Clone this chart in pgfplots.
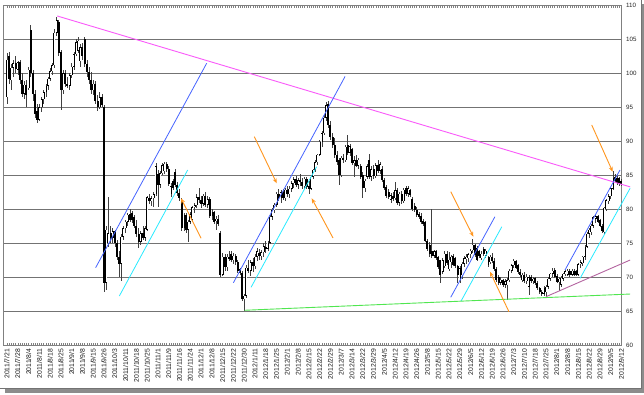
\documentclass[border=0pt]{standalone}
\usepackage{pgfplots}
\usepackage{pgfplotstable}
\usepackage{fontspec}
\setmainfont{Liberation Sans}
\pgfplotsset{compat=1.18}
\usetikzlibrary{arrows.meta}
\definecolor{cMag}{RGB}{250,90,250}
\definecolor{cBlue}{RGB}{70,100,255}
\definecolor{cCyan}{RGB}{40,235,255}
\definecolor{cOrange}{RGB}{255,150,30}
\definecolor{cGreen}{RGB}{80,230,80}
\definecolor{cPurple}{RGB}{180,100,160}
\pgfplotstableread{
i o h l c
0 96.5 103 95.5 102
1 102.5 103.2 98.5 99.2
2 99 101.3 97.5 100.8
3 100.8 102 99.5 101.5
4 101.5 102.5 100 100.6
5 100.5 101.8 99.8 101.6
6 101.6 102 98.5 99
7 99 100 96.5 97
8 97 98.8 96.2 98.3
9 98.3 99 95 96.8
10 97.8 101 97.5 100.5
11 106.3 107.1 99.5 100
12 100 100.5 96 97
13 97 97.5 93.5 94
14 94.5 95.5 92.7 93.2
15 93.2 95.5 93 95
16 95 96.5 94.3 96.2
17 96.2 97.5 95.5 97.2
18 97.2 98.5 96.5 98.2
19 98.2 99.5 97.5 99.2
20 99.2 100.8 98.8 100.3
21 100.3 101.5 99.8 101.2
22 101.2 106.5 100.8 106
23 106 108.3 105.5 107.8
24 107.5 107.8 102.5 103
25 103.2 103.5 94.6 97.5
26 97.5 100.5 97 100
27 100 100.5 98 98.5
28 98.5 99.5 97.8 98.2
29 98.2 100 97.5 99.7
30 99.7 101.5 99.3 101
31 101 103.2 100.5 102.8
32 102.8 105 102.5 104.6
33 103.3 105.3 103 104.8
34 101.8 104.3 101 103.8
35 103.8 104.5 102 102.5
36 105 105.3 101 101.3
37 101.3 102 99.5 100.2
38 100.2 101 98.5 99
39 99 100.2 97 97.5
40 97.5 99 96.8 98.5
41 98.5 98.8 95.5 96
42 96 96.8 94.5 95
43 95 97.2 94.8 96.5
44 96.5 97 95 95.3
45 95 95.3 67.9 69.1
46 69.2 77.5 68.2 77
47 75 81.8 74.5 76.5
48 76.5 77.5 75 75.8
49 75.8 77.3 75 76.8
50 76.8 77 74.5 75
51 75 75.5 72.5 73
52 73 73.8 70 72
53 72 76.3 69.4 76
54 76 77.5 75.5 77.2
55 77.2 78.5 76.5 78.2
56 78.2 79.5 77.5 79.2
57 79.3 80 78.2 78.5
58 79.5 79.8 78 78.4
59 78.8 79.2 77.3 77.6
60 77.6 78.5 76 76.4
61 76.4 77.2 74.3 75.2
62 75.2 76.8 74.8 76.5
63 76.5 77.5 75.5 75.8
64 75.8 77.6 75.4 77.2
65 77 82 76.8 81.8
66 81.6 82.3 80.8 81.2
67 81.2 82 80.5 81.6
68 81.6 82.5 80.4 82.2
69 82.2 86.8 82 86.3
70 85.2 85.8 80.4 83.6
71 83.6 85.6 83.2 85.3
72 85.3 86.8 85 86.5
73 85.6 87 85.2 86.7
74 86.7 87 85.5 86
75 86 86.3 83.4 83.7
76 82.2 83.8 81.8 83.4
77 84.2 84.5 82.8 83.2
78 85.5 86 83.3 83.6
79 83.6 84 82 82.4
80 82.4 83 81.2 81.6
81 81.4 81.6 76.8 77.2
82 77.2 79.5 76.8 79.2
83 79.2 79.5 76.5 77
84 77 78.5 75.2 78.2
85 78.2 79.6 77.8 79.3
86 78.5 80.5 78.2 80.3
87 80.3 81 79.5 80.6
88 80.6 82.2 80.2 81.8
89 81.8 83.1 81 81.4
90 81.4 82 80.2 80.8
91 80.8 82.3 80.5 82
92 82 82.5 80.4 80.7
93 80.7 82 80.2 81.5
94 81.5 81.8 78.7 79
95 79 80 78.4 79.6
96 79.6 79.8 77.8 78.1
97 78.4 79 77 78.6
98 78.6 79.2 77.6 77.9
99 76.5 76.8 70 70.4
100 70.4 73.6 70.2 73
101 73 73.5 71 71.5
102 71.5 73.4 71 73
103 73 73.8 72.4 72.8
104 73.5 73.8 72.2 72.5
105 72.5 73.6 72 73.2
106 73.2 73.4 71.8 72.2
107 72.2 72.5 70.6 70.9
108 71.2 71.4 70.3 70.6
109 70.6 70.9 66.5 66.8
110 66.8 67.6 65.1 67.3
111 67.3 71.8 67 71.4
112 71.4 72.5 70.6 71
113 71 72.5 70.2 72.2
114 72.2 72.8 70.8 71.6
115 71.6 73.4 71.2 73
116 73 74.3 72.4 73.8
117 73.6 74.2 72.6 73.1
118 73.1 74 72.5 73.7
119 73.7 75 73 74.6
120 74.4 75.3 73.6 74.2
121 74.2 75.4 73.8 75.1
122 75.1 79.2 75 78.9
123 78.9 80.2 78.4 79.9
124 79.9 81 79.5 80.7
125 80.7 82.6 80.4 82.3
126 82.3 83 81.2 81.6
127 81.6 82.8 81 82.5
128 82.5 83 81.3 81.6
129 81.6 83.2 81.2 82.9
130 82.9 83.5 81.8 82.2
131 82.2 83.4 81.6 83
132 83 84.2 82.5 83.8
133 83.8 84.8 83.2 84.4
134 84.4 84.9 83.3 83.6
135 83.6 84.6 83 84.3
136 84.3 85.2 83.5 84
137 84 84.6 83 83.4
138 83.4 84.8 83 84.5
139 84.4 84.8 83 83.3
140 83.5 84.2 82.3 83
141 83 85 82.8 84.8
142 84.8 86 84.5 85.8
143 85.8 87.2 85.5 86.9
144 86.9 88.2 86.5 88
145 88 90.2 87.8 89.9
146 89.9 91.5 89.2 91.2
147 91.2 93.8 91 93.5
148 93.5 95.8 93 95.3
149 95.5 96 92 92.4
150 92.4 93 90.2 90.6
151 90.6 91.2 89 89.4
152 89.4 90.5 87.5 88
153 88 88.6 86.5 86.9
154 87.3 87.6 83.6 85
155 85 87.9 84.8 87.6
156 87.6 88.2 86.8 87.2
157 87.2 89.5 87 89.2
158 89.4 90.9 88 88.3
159 88.3 89.6 87.8 89.3
160 88.8 89 86.5 86.8
161 86.8 87.8 84.8 87.2
162 87.2 88 86.2 86.4
163 86.4 87.6 86 87.3
164 86.3 86.6 84.5 84.8
165 85 85.5 81.6 83.1
166 83.1 84.5 82.5 84.2
167 84.8 86.6 84.5 86.3
168 87.2 88.2 84.5 84.8
169 84.8 86.3 84.2 85.9
170 85.9 86.5 84.5 84.9
171 84.9 86.8 84.6 86.5
172 86.5 87.2 85.4 85.7
173 85.7 86.9 85.2 86.6
174 86 86.3 84 84.3
175 84.3 84.6 82.8 83.1
176 83.3 83.6 81.7 82
177 82.6 83 81.5 81.8
178 81.4 82.4 81 82.1
179 81.9 82.6 81.2 81.5
180 81.6 84 81.4 82.8
181 82.8 83.2 80.6 81
182 81 82.6 80.5 82.3
183 82.3 82.7 80.8 81.2
184 81.2 83.2 81 82.9
185 83.2 83.4 82 82.3
186 82.3 83.5 81.8 83.1
187 82.8 83 81.8 82.1
188 81.5 81.8 79.8 80.1
189 80.5 80.9 79.6 79.9
190 79.9 80.4 78.8 79.1
191 79.3 79.6 78.6 78.9
192 79 79.4 77.8 78.1
193 78.3 78.6 77.5 77.9
194 78.1 78.3 75.2 75.4
195 75.4 75.7 73.8 74.1
196 74.8 75.2 73 73.4
197 73.8 80.1 72.8 73.2
198 73.2 74 72.8 73.8
199 73.8 74 72.6 72.9
200 73 73.2 71.2 71.5
201 72.5 72.6 69.1 70.3
202 70.8 72.8 70.5 72.5
203 71.6 73.8 71.3 73.5
204 73.5 73.8 71.8 72.1
205 71.2 73.7 71 72.6
206 72.2 73.3 71.4 73
207 73.2 73.4 71.6 71.8
208 72.8 73 71.4 71.6
209 71.6 71.8 69.1 70.4
210 69.6 71.6 69.2 71.3
211 70.3 72.2 69.8 72
212 72 73.2 71.5 72.8
213 72.8 73.4 72 73
214 72.8 73.6 72.2 73.4
215 73.4 74.2 72.9 73.9
216 74 75.7 73.6 74.8
217 74.7 74.9 73 73.3
218 74.3 74.6 72.4 72.6
219 73.8 74 72.9 73.2
220 72.8 73.8 72.5 73.5
221 74.1 74.4 73.2 73.5
222 73.2 74.2 72.8 73.9
223 71.8 73.2 71.5 73
224 72.2 73.3 71.9 73
225 73 73.6 72.1 72.4
226 72.4 72.8 71 71.2
227 71.2 71.5 69.3 69.6
228 70 70.3 68.9 69.2
229 69.2 70 68.8 69.6
230 69.6 69.8 68.6 68.9
231 68.9 69.8 68.4 69.4
232 68.8 69.9 66.7 69.6
233 69.6 71.2 69.3 71
234 71 72 70.6 71.8
235 71.8 72.7 71.4 72.4
236 72.4 72.6 71.2 71.4
237 71.8 72 70.5 70.8
238 70.8 71.2 70 70.3
239 69.6 70.6 69.3 70.4
240 70.4 70.8 69.1 69.4
241 69.4 70.5 69 70.1
242 68.6 70.3 67.4 70
243 70 70.3 69.2 69.5
244 69.5 70 69 69.8
245 69.9 70.1 68.9 69.1
246 69.1 69.4 68.2 68.4
247 68.4 68.6 67.6 67.8
248 67.8 68.2 67.3 67.6
249 67.6 68.7 67.2 68.5
250 67.8 68.8 67.2 68.6
251 68.6 70 68.3 69.8
252 69.8 70.7 69.4 70.5
253 70.5 71.3 70 71
254 71.1 71.3 69.9 70.1
255 70.2 70.5 69.1 69.3
256 69.3 70 68 69.8
257 68.9 70.2 68.6 69.9
258 69.8 70.7 69.5 70.5
259 70.5 71.1 70.2 70.9
260 70.4 71.2 70.2 71
261 71 71.2 70.1 70.4
262 70.4 71.2 70.2 71
263 71 71.2 70.2 70.4
264 70.9 71.1 70.2 70.4
265 70.4 72.1 70.3 71.9
266 71.9 72.5 71.3 72.2
267 72.1 73.2 71.6 73
268 73 74.7 72.6 74.5
269 74.5 76.6 74.3 76.4
270 76.4 77.2 75.8 77
271 76.6 77.8 76.2 77.6
272 77.6 79 77.3 78.8
273 78.6 79.3 78 79
274 79 79.1 78 78.2
275 78.4 78.6 77.4 77.6
276 77.6 77.9 76.5 76.8
277 76.6 80.4 76.4 80.2
278 80 81.5 79.7 81.3
279 81.2 82.2 80.8 81.9
280 81.9 83.3 81.5 83.1
281 83 85.6 82.8 84.6
282 84.8 85.2 83.8 84.1
283 84.6 84.9 83.6 83.9
284 84.6 84.8 83.5 83.8
285 84.2 84.5 83.4 83.7
}\candles
\begin{document}
\begin{tikzpicture}
\useasboundingbox (0pt,0pt) rectangle (644pt,394pt);
\fill[white] (0pt,0pt) rectangle (644pt,394pt);
\fill[black!45] (5pt,1.5pt) rectangle (644pt,5.5pt);
\fill[black!45] (641.5pt,1.5pt) rectangle (644pt,390pt);
\draw[black!55, line width=0.6pt] (0pt,6pt) -- (641.5pt,6pt) -- (641.5pt,394pt);
\begin{axis}[
  at={(3pt,48.7pt)}, anchor=south west,
  scale only axis, width=618.7pt, height=340pt,
  xmin=-1.86, xmax=285.1, ymin=60, ymax=110,
  clip=false,
  axis line style={black!50, line width=0.7pt},
  ymajorgrids, grid style={black!55, line width=0.7pt},
  ytick={60,65,...,110},
  yticklabel pos=right,
  ytick style={draw=none},
  yticklabel style={font=\fontsize{6.2}{7}\selectfont, text=black!85, xshift=1pt},
  /pgf/number format/assume math mode=true,
  xtick={0,5,...,285},
  xticklabels={2011/7/21,2011/7/28,2011/8/4,2011/8/11,2011/8/18,2011/8/25,2011/9/1,2011/9/8,2011/9/15,2011/9/26,2011/10/3,2011/10/11,2011/10/18,2011/10/25,2011/11/1,2011/11/9,2011/11/16,2011/11/24,2011/12/1,2011/12/8,2011/12/15,2011/12/22,2011/12/30,2012/1/11,2012/1/18,2012/1/25,2012/2/1,2012/2/8,2012/2/15,2012/2/22,2012/2/29,2012/3/7,2012/3/14,2012/3/22,2012/3/29,2012/4/5,2012/4/12,2012/4/19,2012/4/26,2012/5/8,2012/5/15,2012/5/22,2012/5/29,2012/6/5,2012/6/12,2012/6/19,2012/6/26,2012/7/3,2012/7/10,2012/7/18,2012/7/25,2012/8/1,2012/8/8,2012/8/15,2012/8/22,2012/8/29,2012/9/5,2012/9/12},
  xticklabel style={rotate=90, anchor=east, font=\fontsize{6.8}{7}\selectfont, text=black!90},
  minor x tick num=4,
  x tick style={black!50, line width=0.4pt},
  major tick length=2.5pt, minor tick length=2.5pt,
  tick align=inside,
]
% wicks
\addplot[draw=none, mark=none, forget plot,
  error bars/.cd, y dir=both, y explicit, error mark=none,
  error bar style={draw=black!75, line width=0.55pt, solid}]
  table[x=i, y=o, y error plus expr=\thisrow{h}-\thisrow{o}, y error minus expr=\thisrow{o}-\thisrow{l}] {\candles};
% bodies
\addplot[draw=none, mark=none, forget plot,
  error bars/.cd, y dir=both, y explicit, error mark=none,
  error bar style={draw=black, line width=2.0pt, solid, line cap=butt}]
  table[x=i, y expr=(\thisrow{o}+\thisrow{c})/2, y error expr={max(abs(\thisrow{c}-\thisrow{o})/2,0.08)}] {\candles};
% white bodies
\addplot[draw=none, mark=none, forget plot,
  error bars/.cd, y dir=both, y explicit, error mark=none,
  error bar style={draw=white, line width=0.8pt, solid, line cap=butt}]
  table[x=i, y expr=(\thisrow{o}+\thisrow{c})/2, y error expr={(\thisrow{c}>\thisrow{o})*max(abs(\thisrow{c}-\thisrow{o})/2-0.07,0)}] {\candles};
% trend lines
\addplot[cMag, line width=0.9pt, forget plot] coordinates {(23.3,108.43) (289,83.3)};
\addplot[cBlue, line width=0.8pt, forget plot] coordinates {(41.1,71.41) (92.6,101.47)};
\addplot[cCyan, line width=0.8pt, forget plot] coordinates {(52.1,67.25) (83.8,85.78)};
\addplot[cBlue, line width=0.8pt, forget plot] coordinates {(105.0,69.2) (156.8,99.54)};
\addplot[cCyan, line width=0.8pt, forget plot] coordinates {(113.2,68.53) (143.6,86.26)};
\addplot[cBlue, line width=0.8pt, forget plot] coordinates {(205.8,67.06) (226.3,78.91)};
\addplot[cCyan, line width=0.8pt, forget plot] coordinates {(210.6,66.51) (229.5,77.44)};
\addplot[cBlue, line width=0.8pt, forget plot] coordinates {(258.8,71.07) (284.3,85.78)};
\addplot[cCyan, line width=0.8pt, forget plot] coordinates {(265.8,69.85) (289,83.09)};
\addplot[cGreen, line width=0.9pt, forget plot] coordinates {(110.1,65.15) (289,67.54)};
\addplot[cPurple, line width=0.9pt, forget plot] coordinates {(250.0,67.15) (289,72.54)};
% arrows
\addplot[cOrange, line width=0.9pt, -{Stealth[length=5pt,width=4pt]}, forget plot] coordinates {(90.0,75.74) (80.7,81.62)};
\addplot[cOrange, line width=0.9pt, -{Stealth[length=5pt,width=4pt]}, forget plot] coordinates {(114.7,90.68) (125.1,83.82)};
\addplot[cOrange, line width=0.9pt, -{Stealth[length=5pt,width=4pt]}, forget plot] coordinates {(151.2,75.78) (141.3,81.62)};
\addplot[cOrange, line width=0.9pt, -{Stealth[length=5pt,width=4pt]}, forget plot] coordinates {(205.8,82.59) (216.3,75.97)};
\addplot[cOrange, line width=0.9pt, -{Stealth[length=5pt,width=4pt]}, forget plot] coordinates {(232.8,64.94) (224.0,70.82)};
\addplot[cOrange, line width=0.9pt, -{Stealth[length=5pt,width=4pt]}, forget plot] coordinates {(271.2,92.4) (280.9,85.53)};
\end{axis}
\end{tikzpicture}
\end{document}
